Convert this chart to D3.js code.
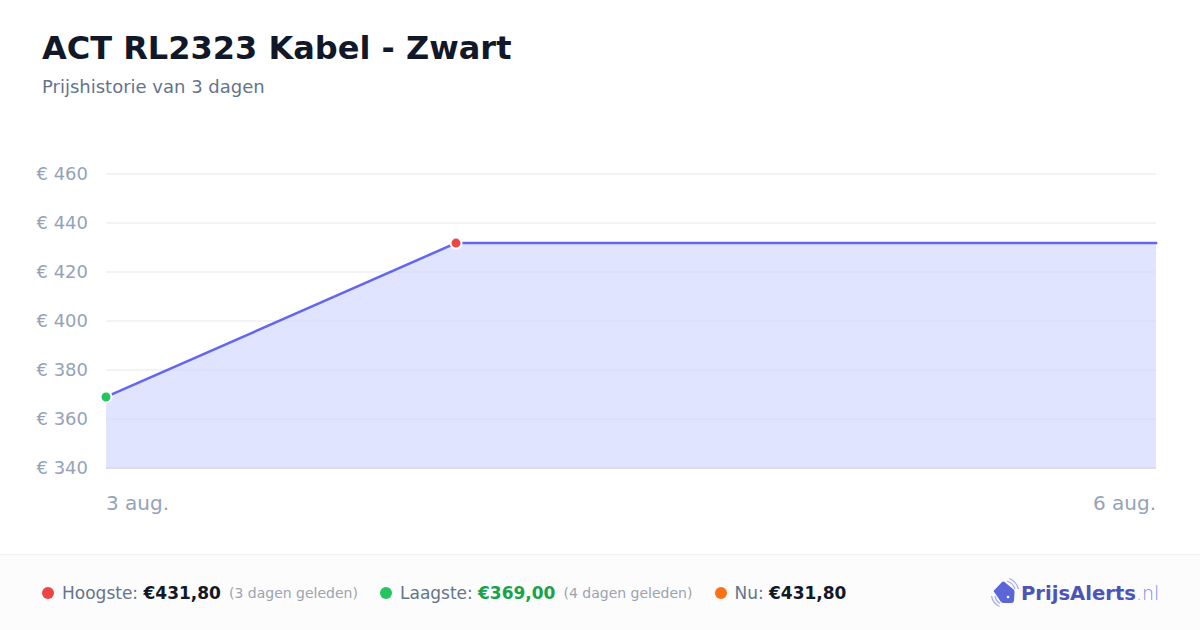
<!DOCTYPE html>
<html><head><meta charset="utf-8">
<script src="https://cdn.jsdelivr.net/npm/d3@7/dist/d3.min.js"></script>
<style>html,body{margin:0;padding:0;background:#fff}svg{display:block}text{font-family:"DejaVu Sans",sans-serif}</style>
</head><body><svg id="c" width="1200" height="630"></svg>
<script>
const dates = ["2024-08-03","2024-08-04","2024-08-06"];
const prices = [369.00,431.80,431.80];
const yTicks = [340,360,380,400,420,440,460];
const xLabels = ["3 aug.","6 aug."];
const title = "ACT RL2323 Kabel - Zwart";
const subtitle = "Prijshistorie van 3 dagen";

const svg = d3.select("#c");
const parse = d3.utcParse("%Y-%m-%d");
const pts = dates.map((d,i)=>({d:parse(d),v:prices[i]}));
const x = d3.scaleUtc().domain([pts[0].d,pts[2].d]).range([106,1156]);
const y = d3.scaleLinear().domain([340,460]).range([468,174]);

svg.append("text").attr("x",42).attr("y",59).attr("font-size",32).attr("font-weight",700).attr("fill","#111827").text(title);
svg.append("text").attr("x",42).attr("y",93).attr("font-size",18).attr("fill","#64748b").text(subtitle);

const axis = svg.append("g");
yTicks.forEach(t=>{
  axis.append("line").attr("x1",106).attr("x2",1156).attr("y1",y(t)).attr("y2",y(t))
    .attr("stroke","#f1f3f6").attr("stroke-width",2);
  axis.append("text").attr("x",88).attr("y",y(t)+6).attr("text-anchor","end").attr("font-size",18)
    .attr("fill","#94a3b8").text("€ "+t);
});
const areaGen = d3.area().x(d=>x(d.d)).y0(y(340)+1).y1(d=>y(d.v));
svg.append("clipPath").attr("id","under").append("path").datum(pts).attr("d",areaGen);
svg.append("path").datum(pts).attr("fill","#e1e4ff").attr("d",areaGen);
// grid lines show faintly through the area
const inner = svg.append("g").attr("clip-path","url(#under)");
yTicks.forEach(t=>{
  inner.append("line").attr("x1",106).attr("x2",1156).attr("y1",y(t)).attr("y2",y(t))
    .attr("stroke",t===340?"#dcdde9":"#dce0fa").attr("stroke-width",2);
});
svg.append("path").datum(pts).attr("fill","none").attr("stroke","#6366f1").attr("stroke-width",2.5)
  .attr("stroke-linecap","square")
  .attr("d",d3.line().x(d=>x(d.d)).y(d=>y(d.v)));
[[0,"#22c55e"],[1,"#ef4444"]].forEach(([i,c])=>{
  svg.append("circle").attr("cx",x(pts[i].d)).attr("cy",y(pts[i].v)).attr("r",5.5)
    .attr("fill",c).attr("stroke","#fff").attr("stroke-width",2);
});
svg.append("text").attr("x",106).attr("y",510).attr("font-size",20).attr("fill","#94a3b8").text(xLabels[0]);
svg.append("text").attr("x",1156).attr("y",510).attr("text-anchor","end").attr("font-size",20).attr("fill","#94a3b8").text(xLabels[1]);

// footer
svg.append("rect").attr("x",0).attr("y",555).attr("width",1200).attr("height",75).attr("fill","#fcfcfc");
svg.append("line").attr("x1",0).attr("x2",1200).attr("y1",554.5).attr("y2",554.5).attr("stroke","#f3f3f5");
const fy=599;
function stat(cx,dot,label,lx,val,vx,vc,note,nx){
  svg.append("circle").attr("cx",cx).attr("cy",593).attr("r",6).attr("fill",dot);
  svg.append("text").attr("x",lx).attr("y",fy).attr("font-size",17).attr("fill","#64748b").text(label);
  svg.append("text").attr("x",vx).attr("y",fy).attr("font-size",17).attr("font-weight",700).attr("fill",vc).text(val);
  if(note) svg.append("text").attr("x",nx).attr("y",fy-1).attr("font-size",14).attr("fill","#9ca3af").text(note);
}
stat(48,"#ef4444","Hoogste:",62,"€431,80",143.5,"#111827","(3 dagen geleden)",229);
stat(386,"#22c55e","Laagste:",400,"€369,00",478,"#16a34a","(4 dagen geleden)",563.5);
stat(721,"#f97316","Nu:",734.5,"€431,80",769,"#111827");

// logo
const lg=svg.append("g");
lg.append("path").attr("d","M993.5 591 L1002 582 Q1003 581 1004.5 582 L1013 589 Q1014.5 590 1014.5 592 L1014 600 Q1014 603 1011 603 L1004 603 Q1002 603 1001 602 Z").attr("fill","#5b67d8");
lg.append("circle").attr("cx",1008).attr("cy",597).attr("r",1.3).attr("fill","#fff");
[["M1007 581 Q1013 583 1015 589",1.3],["M1009 578.5 Q1016 581 1018.5 589",1.3],["M995 596 Q996 601 1000 603.5",1.3],["M991.5 596 Q993 603.5 999.5 606.5",1.3]].forEach(([d,w])=>{
  lg.append("path").attr("d",d).attr("fill","none").attr("stroke","#a5b0f0").attr("stroke-width",w);
});
const lt=svg.append("text").attr("x",1021).attr("y",600).attr("font-size",19.6).attr("font-family","Inter, sans-serif");
lt.append("tspan").attr("font-weight",800).attr("fill","#4c54b8").text("PrijsAlerts");
lt.append("tspan").attr("font-weight",300).attr("font-size",19).attr("fill","#7f8bf5").text(".nl");
</script></body></html>
